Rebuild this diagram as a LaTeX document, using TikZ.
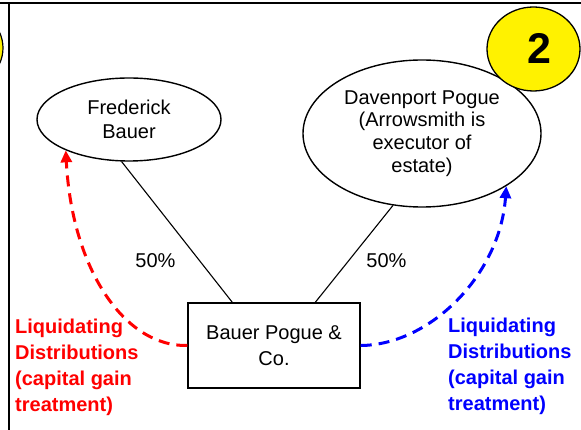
\documentclass[tikz,border=0pt]{standalone}
\usepackage{fontspec}
\setmainfont{Liberation Sans}
\usetikzlibrary{arrows.meta,shapes.geometric}
\begin{document}
\begin{tikzpicture}[x=1pt,y=-1pt,
  txt/.style={font=\fontsize{20}{24}\selectfont, align=center, inner sep=0pt},
  oval/.style={draw, ellipse, line width=1.4pt, inner sep=0pt},
  box/.style={draw, rectangle, line width=1.4pt, inner sep=0pt},
  link/.style={line width=1.1pt},
  flow/.style={line width=3pt, dash pattern=on 11pt off 7pt,
    -{Triangle[length=12pt,width=11pt]}},
  note/.style={font=\fontsize{20}{26}\selectfont\bfseries, align=left, inner sep=0pt, anchor=north west}]
\useasboundingbox (0,0) rectangle (581,430);
% frame
\draw[fill=yellow, line width=1.2pt] (-45,48) ellipse [x radius=48pt, y radius=42pt];
\draw[line width=2pt] (0,3.5) -- (581,3.5);
\draw[line width=2pt] (8.5,3.5) -- (8.5,430);
% nodes
\node[oval, txt, minimum width=184pt, minimum height=83pt] (fb) at (129,119.5) {Frederick\\Bauer};
\node[oval, txt, font=\fontsize{20}{22.7}\selectfont, minimum width=238pt, minimum height=147pt] (dp) at (422,133.5)
  {Davenport Pogue\\(Arrowsmith is\\executor of\\estate)};
\node[box, txt, font=\fontsize{20}{26}\selectfont, minimum width=172pt, minimum height=85pt] (bp) at (274,345.5) {Bauer Pogue \&\\Co.};
\node[oval, fill=yellow, line width=1.3pt, minimum width=93pt, minimum height=84pt] (two) at (533.5,49) {};
\node[font=\fontsize{43}{43}\selectfont\bfseries, inner sep=0pt] (twolabel) at (539,48) {2};
% connectors
\draw[link] (fb.260) -- ([xshift=45pt]bp.north west);
\draw[link] (dp.248) -- ([xshift=128pt]bp.north west);
\node[txt] (pl) at (155.5,260.5) {50\%};
\node[txt] (pr) at (386.5,260.5) {50\%};
% flows
\draw[flow, red] (bp.west) .. controls (125,347) and (72,270) .. (fb.206);
\draw[flow, blue] (bp.east) .. controls (430,345) and (500,275) .. (dp.328);
\node[note, text=red] (lnote) at (15,318.5) {Liquidating\\Distributions\\(capital gain\\treatment)};
\node[note, text=blue] (rnote) at (448,317.5) {Liquidating\\Distributions\\(capital gain\\treatment)};
\end{tikzpicture}
\end{document}
